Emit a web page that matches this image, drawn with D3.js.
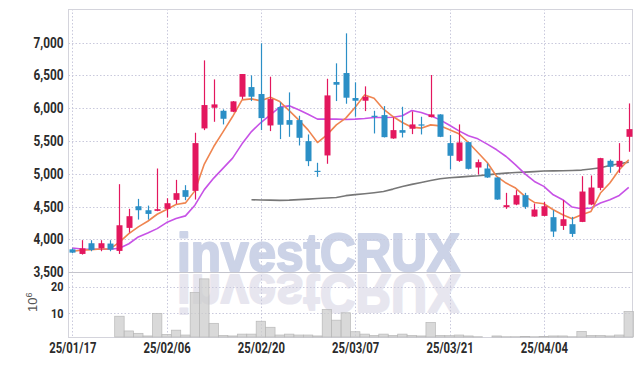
<!DOCTYPE html>
<html>
<head>
<meta charset="utf-8">
<script src="https://cdn.jsdelivr.net/npm/d3@7"></script>
<style>
  body { margin: 0; background: #fff; }
  svg { display: block; }
  .tick text { font-family: Roboto, "Liberation Sans", sans-serif; font-weight: bold; font-size: 14px; fill: #2b2b2b; }
</style>
</head>
<body>
<script>
// trading days shown on the chart
var dates = ["2025-01-17","2025-01-20","2025-01-21","2025-01-22","2025-01-23","2025-01-24","2025-01-31",
  "2025-02-03","2025-02-04","2025-02-05","2025-02-06","2025-02-07","2025-02-10","2025-02-11","2025-02-12","2025-02-13","2025-02-14",
  "2025-02-17","2025-02-18","2025-02-19","2025-02-20","2025-02-21","2025-02-24","2025-02-25","2025-02-26","2025-02-27","2025-02-28",
  "2025-03-04","2025-03-05","2025-03-06","2025-03-07","2025-03-10","2025-03-11","2025-03-12","2025-03-13","2025-03-14",
  "2025-03-17","2025-03-18","2025-03-19","2025-03-20","2025-03-21","2025-03-24","2025-03-25","2025-03-26","2025-03-27","2025-03-28","2025-03-31",
  "2025-04-01","2025-04-02","2025-04-03","2025-04-04","2025-04-07","2025-04-08","2025-04-09","2025-04-10","2025-04-11",
  "2025-04-14","2025-04-15","2025-04-16","2025-04-17"];

var open  = [3850,3780,3943,3866,3938,3826,4177,4507,4446,4436,4467,4604,4752,4741,5693,6008,5962,5947,6176,6323,
             6217,5738,6018,5820,5820,5499,5047,5281,6400,6537,6156,6115,5886,5896,5540,5667,5688,5754,5866,5906,
             5469,5199,5484,5097,5082,4945,4492,4533,4675,4350,4360,4340,4207,4233,4268,4533,4787,5199,5108,5565];
var high  = [3865,3990,3989,3989,3989,4843,4467,4619,4517,5082,4629,4909,4828,5627,6730,6440,5983,6110,6522,6501,
             6990,6481,6089,6242,5886,5601,5169,6450,6685,7142,6395,6334,5962,6033,5860,6023,5952,5871,6507,5910,
             5591,5754,5490,5219,5158,4950,4711,4752,4711,4548,4573,4446,4599,4345,4965,4975,5245,5219,5469,6074];
var low   = [3790,3770,3821,3821,3821,3780,4105,4304,4304,4431,4334,4543,4599,4609,5667,5794,5754,5940,6140,6110,
             5667,5652,5530,5565,5433,5118,4955,5154,6110,6069,5871,5957,5616,5555,5535,5555,5606,5601,5860,5560,
             5067,5184,5067,4991,4940,4605,4467,4523,4467,4345,4355,4039,4146,4039,4265,4523,4751,5016,5016,5337];
var close = [3800,3865,3841,3943,3846,4217,4355,4446,4390,4462,4553,4706,4650,5469,6049,6059,5840,6105,6522,6176,
             5850,6140,5749,5749,5550,5194,5040,6196,6359,6161,6115,6176,5871,5560,5667,5627,5754,5744,5906,5565,
             5276,5479,5077,5179,4945,4609,4523,4675,4497,4457,4507,4121,4309,4085,4731,4792,5240,5108,5199,5682];

// volume, millions of shares
var volume = [0.9,0.9,0.9,0.9,0.9,8.8,3.2,2.3,1.3,9.9,1.9,3.5,1.65,17.8,23,6.1,1.5,1.3,2.0,2.0,
              6.9,4.6,1.65,2.0,1.65,1.65,1.3,11.4,7.3,10.1,2.9,2.0,1.5,2.0,1.5,2.0,1.5,1.3,6.45,1.5,
              1.4,1.65,1.3,1.0,0.9,1.3,1.0,1.0,1.1,1.0,1.1,1.3,1.3,1.0,3.05,1.5,1.5,1.3,1.65,10.6];

// moving averages
var ma5  = [3821,3836,3846,3856,3856,3960,4090,4192,4278,4385,4457,4533,4558,4741,5150,5417,5645,5874,6128,6143,
            6113,6169,6102,5965,5823,5671,5478,5595,5747,5850,6017,6204,6154,5986,5874,5783,5712,5697,5747,5732,
            5671,5610,5478,5326,5174,4961,4860,4784,4656,4565,4545,4454,4378,4317,4378,4428,4708,4860,5063,5215];
var ma20 = [3871,3856,3851,3851,3851,3866,3935,4039,4100,4166,4258,4319,4360,4523,4760,4936,5088,5240,5458,5645,
            5783,5900,6017,6037,5976,5910,5834,5834,5834,5828,5834,5844,5859,5859,5864,5885,5966,5936,5885,5823,
            5742,5656,5580,5534,5453,5367,5265,5138,5001,4885,4809,4681,4606,4494,4469,4479,4555,4606,4672,4794];
var ma60 = [null,null,null,null,null,null,null,null,null,null,null,null,null,null,null,null,null,null,null,4606,
            4603,4600,4596,4600,4608,4616,4624,4632,4641,4668,4684,4697,4713,4732,4768,4809,4840,4870,4898,4926,
            4940,4951,4962,4971,4985,5000,5012,5020,5027,5035,5043,5046,5048,5052,5058,5075,5093,5128,5154,5179];

var priceTicks = [3500,4000,4500,5000,5500,6000,6500,7000];
var volTicks = [10,20];
var dateTicks = [0,10,20,30,40,50];

var w = 642, h = 366;
var plotLeft = 68.5, plotRight = 632.5, plotTop = 9, split = 272.3, plotBottom = 337;

var svg = d3.select("body").append("svg")
    .attr("width", w)
    .attr("height", h);

var x = d3.scaleLinear().domain([-0.4, 59.4]).range([plotLeft, plotRight]);
var y = d3.scaleLinear().domain([3500, 7513]).range([split, plotTop]);
var yv = d3.scaleLinear().domain([0.9, 25.5]).range([plotBottom, split]);

var gridColor = "#c9c9dc";

// watermark and its reflection (stroked to get the heavy face)
function watermark(fill, transform){
    svg.append("text")
        .attr("transform", transform)
        .attr("x", 177).attr("y", 271)
        .attr("textLength", 283).attr("lengthAdjust", "spacingAndGlyphs")
        .style("font-family", "Liberation Sans, Arial, sans-serif")
        .style("font-weight", "bold").style("font-size", "53px")
        .style("fill", fill).style("stroke", fill).style("stroke-width", 2.2)
        .style("stroke-linejoin", "round")
        .text("investCRUX");
}
watermark("#ccd3e7", null);
watermark("#e7e6ef", "translate(0,546) scale(1,-1)");

// grid
svg.append("g").selectAll("line")
    .data(priceTicks.filter(function(d){ return d > 3500; }))
    .enter().append("line")
    .attr("x1", plotLeft).attr("x2", plotRight)
    .attr("y1", function(d){ return Math.round(y(d)) + 0.5; })
    .attr("y2", function(d){ return Math.round(y(d)) + 0.5; })
    .style("stroke", gridColor).style("stroke-dasharray", "1.5,2");
svg.append("g").selectAll("line")
    .data(volTicks)
    .enter().append("line")
    .attr("x1", plotLeft).attr("x2", plotRight)
    .attr("y1", function(d){ return Math.round(yv(d)) + 0.5; })
    .attr("y2", function(d){ return Math.round(yv(d)) + 0.5; })
    .style("stroke", gridColor).style("stroke-dasharray", "1.5,2");
svg.append("g").selectAll("line")
    .data(dateTicks)
    .enter().append("line")
    .attr("x1", function(d){ return Math.round(x(d)) + 0.5; })
    .attr("x2", function(d){ return Math.round(x(d)) + 0.5; })
    .attr("y1", plotTop).attr("y2", plotBottom)
    .style("stroke", gridColor).style("stroke-dasharray", "1.5,2");

// frame
svg.append("rect")
    .attr("x", plotLeft).attr("y", plotTop + 0.5)
    .attr("width", plotRight - plotLeft).attr("height", plotBottom - plotTop)
    .style("fill", "none").style("stroke", "#d4d4dc");
svg.append("line")
    .attr("x1", plotLeft).attr("x2", plotRight)
    .attr("y1", Math.round(split) + 0.5).attr("y2", Math.round(split) + 0.5)
    .style("stroke", "#c4c4cc");

// volume bars
var bw = x(1) - x(0);
svg.append("g").selectAll("rect")
    .data(volume)
    .enter().append("rect")
    .attr("x", function(d, i){ return x(i) - bw / 2; })
    .attr("y", function(d){ return yv(d); })
    .attr("width", bw)
    .attr("height", function(d){ return plotBottom - yv(d); })
    .style("fill", "rgba(204,204,204,0.75)")
    .style("stroke", "#b8b8b8").style("stroke-width", 0.7);

// moving averages
function maLine(arr, color, width){
    var line = d3.line()
        .defined(function(d){ return d != null; })
        .x(function(d, i){ return x(i); })
        .y(function(d){ return y(d); });
    svg.append("path")
        .datum(arr)
        .attr("d", line)
        .style("fill", "none")
        .style("stroke", color)
        .style("stroke-width", width)
        .style("stroke-linejoin", "round");
}
maLine(ma60, "#777777", 1.6);
maLine(ma20, "#c752e6", 1.6);
maLine(ma5, "#ef8550", 1.6);

// candles
var up = "#e3175e", down = "#2b8fc6";
var candles = svg.append("g").selectAll("g")
    .data(dates)
    .enter().append("g");
candles.append("line")
    .attr("x1", function(d, i){ return Math.round(x(i)) + 0.5; })
    .attr("x2", function(d, i){ return Math.round(x(i)) + 0.5; })
    .attr("y1", function(d, i){ return y(high[i]); })
    .attr("y2", function(d, i){ return y(low[i]); })
    .style("stroke", function(d, i){ return close[i] > open[i] ? up : down; })
    .style("stroke-width", 1.2);
candles.append("rect")
    .attr("x", function(d, i){ return Math.round(x(i)) + 0.5 - 3; })
    .attr("y", function(d, i){ return y(Math.max(open[i], close[i])); })
    .attr("width", 6)
    .attr("height", function(d, i){ return Math.max(1.2, Math.abs(y(open[i]) - y(close[i]))); })
    .style("fill", function(d, i){ return close[i] > open[i] ? up : down; });

// axes (labels squeezed to the narrow face of the original)
function squeeze(g, perChar){
    g.select(".domain").remove();
    g.selectAll(".tick text")
        .attr("lengthAdjust", "spacingAndGlyphs")
        .attr("textLength", function(){ return this.textContent.length * perChar; });
}
var yAxis = d3.axisLeft(y).tickValues(priceTicks).tickFormat(d3.format(",")).tickSize(0).tickPadding(5);
svg.append("g").attr("transform", "translate(" + plotLeft + ",0)").call(yAxis)
    .call(squeeze, 6.0);

var vAxis = d3.axisLeft(yv).tickValues(volTicks).tickSize(0).tickPadding(5);
svg.append("g").attr("transform", "translate(" + plotLeft + ",0)").call(vAxis)
    .call(squeeze, 6.2)
    .selectAll(".tick text").style("font-size", "13px");

var xAxis = d3.axisBottom(x).tickValues(dateTicks).tickSize(0).tickPadding(6)
    .tickFormat(function(i){ return dates[i].slice(2).replace(/-/g, "/"); });
svg.append("g").attr("transform", "translate(0," + plotBottom + ")").call(xAxis)
    .call(squeeze, 5.9);

// volume unit
var unit = svg.append("text")
    .attr("transform", "translate(37,312) rotate(-90)")
    .style("font-family", "Liberation Sans, Arial, sans-serif")
    .style("font-size", "13px").style("fill", "#555");
unit.append("tspan").text("10");
unit.append("tspan").attr("dy", -5).style("font-size", "9px").text("6");
</script>
</body>
</html>
